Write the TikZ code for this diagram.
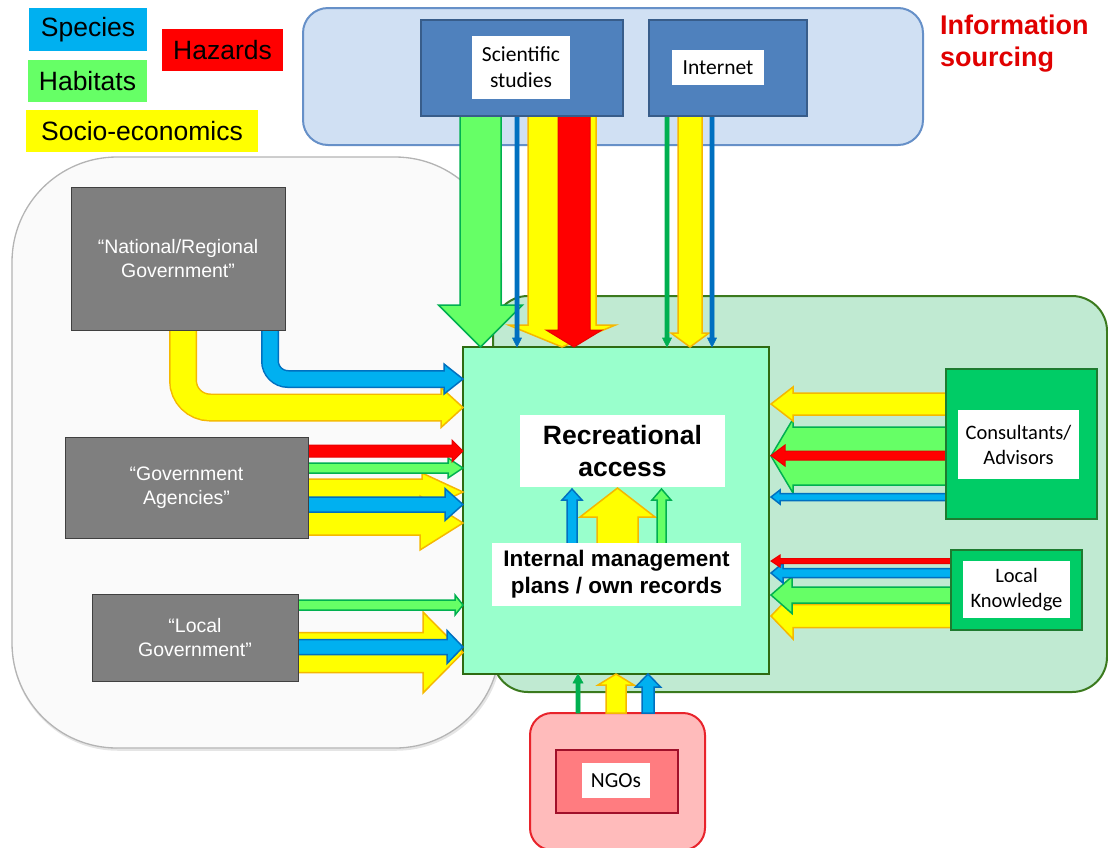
\documentclass[tikz,border=0pt]{standalone}
\usepackage{fontspec}
\setmainfont{Liberation Sans}
\newfontfamily\carl{Carlito}
\definecolor{ylw}{HTML}{FFFF00}
\definecolor{ylwd}{HTML}{F5B800}
\definecolor{grn}{HTML}{66FF66}
\definecolor{grnd}{HTML}{00B050}
\definecolor{blu}{HTML}{00B0F0}
\definecolor{blud}{HTML}{0070C0}
\definecolor{redc}{HTML}{FF0000}
\definecolor{redd}{HTML}{E80000}
\definecolor{infofill}{HTML}{D0E0F3}
\definecolor{infodraw}{HTML}{6690C8}
\definecolor{scifill}{HTML}{4F81BD}
\definecolor{scidraw}{HTML}{385D8A}
\definecolor{greyfill}{HTML}{FAFAFA}
\definecolor{greydraw}{HTML}{B4B4B4}
\definecolor{lgfill}{HTML}{C0EAD2}
\definecolor{lgdraw}{HTML}{3B7A1E}
\definecolor{cfill}{HTML}{99FFCC}
\definecolor{cdraw}{HTML}{2E6B12}
\definecolor{govfill}{HTML}{7F7F7F}
\definecolor{govdraw}{HTML}{404040}
\definecolor{consfill}{HTML}{00CC66}
\definecolor{consdraw}{HTML}{1E7B30}
\definecolor{ngofill}{HTML}{FFBBBB}
\definecolor{ngodraw}{HTML}{E8232B}
\definecolor{ngoin}{HTML}{FF7C80}
\definecolor{ngoindraw}{HTML}{A0102A}
\definecolor{infored}{HTML}{E00000}
% horizontal block arrow: style, x tail, x tip, y, half shaft, half head, head length (signed)
\newcommand{\hblock}[7]{\filldraw[#1] (#2,{#4-(#5)}) -- ({#3-(#7)},{#4-(#5)}) -- ({#3-(#7)},{#4-(#6)}) -- (#3,#4) -- ({#3-(#7)},{#4+(#6)}) -- ({#3-(#7)},{#4+(#5)}) -- (#2,{#4+(#5)}) -- cycle;}
% vertical block arrow: style, y tail, y tip, x, half shaft, half head, head length (signed)
\newcommand{\vblock}[7]{\filldraw[#1] ({#4-(#5)},#2) -- ({#4-(#5)},{#3-(#7)}) -- ({#4-(#6)},{#3-(#7)}) -- (#4,#3) -- ({#4+(#6)},{#3-(#7)}) -- ({#4+(#5)},{#3-(#7)}) -- ({#4+(#5)},#2) -- cycle;}
\tikzset{
  ylwA/.style={fill=ylw, draw=ylwd, line width=1.5pt},
  grnA/.style={fill=grn, draw=grnd, line width=1.5pt},
  bluA/.style={fill=blu, draw=blud, line width=1.5pt},
  redA/.style={fill=redc, draw=redd, line width=1pt},
  bluT/.style={fill=blud, draw=blud, line width=0.6pt},
  grnT/.style={fill=grnd, draw=grnd, line width=0.6pt},
  box/.style={inner sep=0pt, outer sep=0pt},
  legend/.style={box, font=\fontsize{26.5}{30}\selectfont},
  region/.style={box, line width=2pt},
  govbox/.style={box, fill=govfill, draw=govdraw, line width=1pt, text=white, align=center, font=\fontsize{19.5}{24}\selectfont},
  scibox/.style={box, fill=scifill, draw=scidraw, line width=1.5pt},
  consbox/.style={box, fill=consfill, draw=consdraw, line width=2pt},
  lbl/.style={box, fill=white, align=center},
  carltext/.style={font=\carl\fontsize{21.5}{26}\selectfont},
}
\begin{document}
\begin{tikzpicture}[x=1pt,y=-1pt]
\useasboundingbox (0,0) rectangle (1108,847);
% ---------- regions ----------
\node[region, draw=black!10, line width=2.5pt, rounded corners=105pt, minimum width=488, minimum height=591] (govshadow) at (257,454) {};
\node[region, fill=greyfill, draw=greydraw, line width=1.3pt, rounded corners=105pt, minimum width=488, minimum height=591] (govregion) at (256,452.5) {};
\node[region, fill=lgfill, draw=lgdraw, rounded corners=35pt, minimum width=614, minimum height=396] (lgregion) at (800,494) {};
\node[region, fill=infofill, draw=infodraw, rounded corners=25pt, minimum width=620, minimum height=137] (inforegion) at (613,76.5) {};
\node[region, fill=ngofill, draw=ngodraw, rounded corners=22pt, minimum width=175, minimum height=137] (ngoregion) at (617.5,781.5) {};
% ---------- legend ----------
\node[legend, fill=blu, minimum width=118, minimum height=43] (species) at (88,29.5) {Species};
\node[legend, fill=redc, minimum width=121, minimum height=42] (hazards) at (222.5,50) {Hazards};
\node[legend, fill=grn, minimum width=119, minimum height=42] (habitats) at (87.5,81) {Habitats};
\node[legend, fill=ylw, minimum width=232, minimum height=42] (socio) at (142,131) {Socio-economics};
\node[box, anchor=north west, align=left, text=infored, font=\bfseries\fontsize{27}{32}\selectfont] (infolabel) at (940,15) {Information\\sourcing};
% ---------- centre box ----------
\node[box, fill=cfill, draw=cdraw, line width=2pt, minimum width=306, minimum height=327] (centre) at (616,510.5) {};
% ---------- arrows from Scientific studies ----------
\vblock{grnA}{116}{347}{480.5}{20.5}{42}{42}
\vblock{ylwA}{116}{347}{562}{34}{53.5}{22}
\vblock{redA}{116}{347}{574}{16}{28}{17}
\vblock{bluT}{116}{347}{517}{2}{4.5}{9}
% ---------- arrows from Internet ----------
\vblock{grnT}{116}{347}{667}{2}{4.5}{9}
\vblock{ylwA}{116}{347}{690}{12}{19}{14}
\vblock{bluT}{116}{347}{712}{2}{4.5}{9}
% ---------- bent arrows from National/Regional Government ----------
\draw[line width=28pt, draw=ylwd, rounded corners=27pt] (183,329) -- (183,407.5) -- (441,407.5);
\filldraw[ylwA] (441,387.5) -- (463,407.5) -- (441,427.5) -- cycle;
\draw[line width=25pt, draw=ylw, rounded corners=27pt] (183,329) -- (183,407.5) -- (442.5,407.5);
\draw[line width=18pt, draw=blud, rounded corners=18pt] (270,329) -- (270,379) -- (444,379);
\filldraw[bluA] (444,364) -- (463,379) -- (444,394) -- cycle;
\draw[line width=15pt, draw=blu, rounded corners=18pt] (270,329) -- (270,379) -- (445.5,379);
% ---------- arrows from Government Agencies ----------
\hblock{ylwA}{308}{463}{492}{13}{19}{41}
\hblock{ylwA}{308}{463}{523}{12}{27}{43}
\hblock{bluA}{308}{463}{504.5}{7.5}{16}{18}
\hblock{grnA}{308}{463}{468}{5}{10}{15}
\hblock{redA}{308}{463}{451}{6}{11}{11}
% ---------- arrows from Local Government ----------
\hblock{ylwA}{298}{463}{652.5}{20}{40.5}{40}
\hblock{bluA}{298}{463}{647}{7.5}{16.5}{16}
\hblock{grnA}{298}{463}{605}{5}{10}{8}
% ---------- arrows from Consultants/Advisors ----------
\hblock{grnA}{946}{771}{456}{29}{37}{-22}
\hblock{ylwA}{946}{771}{404}{11}{17}{-22}
\hblock{redA}{946}{771}{455.5}{4.5}{10.5}{-14}
\hblock{bluA}{946}{771}{497}{3.5}{7}{-9}
% ---------- arrows from Local Knowledge ----------
\hblock{ylwA}{951}{771}{616}{11.5}{23}{-22}
\hblock{grnA}{951}{771}{595}{8}{18.5}{-21}
\hblock{bluA}{951}{771}{573}{4.5}{10}{-12}
\hblock{redA}{951}{771}{561}{2.5}{6}{-9}
% ---------- arrows from NGOs ----------
\vblock{grnT}{713}{674}{578}{2}{5}{-9}
\vblock{ylwA}{713}{674}{616}{10}{18}{-11}
\vblock{bluA}{713}{674}{648}{6}{12.5}{-13}
% ---------- internal arrows ----------
\vblock{bluA}{545}{489}{572}{5}{10}{-11}
\vblock{ylwA}{545}{488}{617.5}{20.5}{37.5}{-29}
\vblock{grnA}{545}{489}{661.5}{4.5}{9.5}{-11}
% ---------- labels inside centre ----------
\node[lbl, minimum width=205, minimum height=72, font=\bfseries\fontsize{26.5}{32}\selectfont] (rec) at (622.5,451) {Recreational\\access};
\node[lbl, minimum width=249, minimum height=63, font=\bfseries\fontsize{22.5}{27}\selectfont] (internal) at (616.5,574.5) {Internal management\\plans / own records};
% ---------- source boxes ----------
\node[scibox, minimum width=202, minimum height=96] (sci) at (522,68) {};
\node[lbl, carltext, minimum width=98, minimum height=63] (scilabel) at (521,67.5) {Scientific\\studies};
\node[scibox, minimum width=158, minimum height=96] (internet) at (728,68) {};
\node[lbl, carltext, minimum width=92, minimum height=35] (internetlabel) at (718,67.5) {Internet};
\node[govbox, minimum width=214, minimum height=143] (natgov) at (178,258.5) {“National/Regional\\Government”};
\node[govbox, minimum width=243, minimum height=101] (agencies) at (186.5,487.5) {“Government\\Agencies”};
\node[govbox, minimum width=206, minimum height=87] (localgov) at (195,637.5) {“Local\\Government”};
\node[consbox, minimum width=151, minimum height=150] (consultants) at (1021.5,444) {};
\node[lbl, carltext, font=\carl\fontsize{20.5}{25}\selectfont, minimum width=121, minimum height=69] (conslabel) at (1018.5,444.5) {Consultants/\\Advisors};
\node[consbox, minimum width=131, minimum height=80] (localknow) at (1016.5,590) {};
\node[lbl, carltext, font=\carl\fontsize{20.5}{25}\selectfont, minimum width=107, minimum height=57] (locallabel) at (1016.5,589.5) {Local\\Knowledge};
\node[box, fill=ngoin, draw=ngoindraw, line width=2pt, minimum width=122, minimum height=63] (ngo) at (617,781.5) {};
\node[lbl, carltext, minimum width=68, minimum height=35] (ngolabel) at (616,780.5) {NGOs};
\end{tikzpicture}
\end{document}
